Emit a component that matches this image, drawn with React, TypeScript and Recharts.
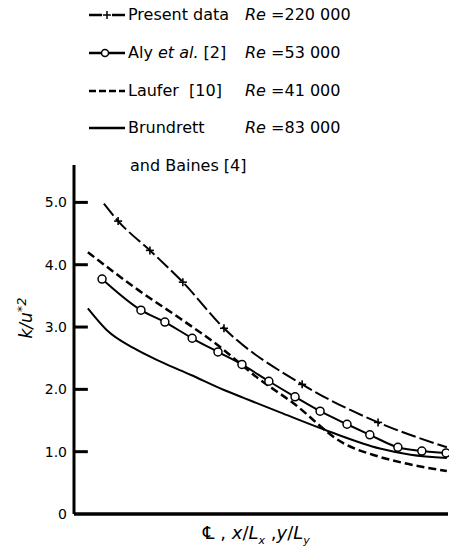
import { ComposedChart, Line, XAxis, YAxis } from 'recharts';

// values (x is a relative position along the axis, 0..100)
const presentX = [8.0, 11.8, 20.3, 29.1, 40.1, 61.0, 81.3, 99.7];
const presentY = [4.98, 4.7, 4.23, 3.72, 2.98, 2.08, 1.47, 1.07];
const alyX = [7.5, 17.9, 24.3, 31.6, 38.5, 44.9, 52.1, 59.1, 65.8, 73.0, 79.1, 86.6, 93.0, 99.5];
const alyY = [3.77, 3.27, 3.08, 2.82, 2.6, 2.4, 2.13, 1.88, 1.65, 1.44, 1.27, 1.07, 1.01, 0.98];
const lauferX = [3.7, 17.5, 28.3, 38.2, 49.2, 58.6, 71.9, 81.0, 88.0, 99.7];
const lauferY = [4.2, 3.58, 3.14, 2.72, 2.18, 1.78, 1.14, 0.93, 0.82, 0.69];
const brundrettX = [3.7, 8.8, 16.0, 23.3, 31.3, 40.1, 45.5, 55.1, 68.4, 81.8, 90.0, 99.7];
const brundrettY = [3.3, 2.95, 2.66, 2.44, 2.23, 1.99, 1.86, 1.63, 1.32, 1.05, 0.95, 0.9];

const yTicks = [0, 1, 2, 3, 4, 5];
const yTickLabels = ['0', '1.0', '2.0', '3.0', '4.0', '5.0'];
const xDomain = [0, 100];
const yDomain = [0, 5.6];
const tickLen = 3.7; // inward tick length, in x units

const toPoints = (xs: number[], ys: number[]) => xs.map((x, i) => ({ x, y: ys[i] }));

const present = toPoints(presentX, presentY);
const aly = toPoints(alyX, alyY);
const laufer = toPoints(lauferX, lauferY);
const brundrett = toPoints(brundrettX, brundrettY);

// axis frame and inward tick marks, drawn through the chart scales
const yAxisLine = toPoints([xDomain[0], xDomain[0]], yDomain);
const xAxisLine = toPoints(xDomain, [yDomain[0], yDomain[0]]);
const tickMarks = yTicks.filter(t => t > 0).map(t => toPoints([0, tickLen], [t, t]));

const FONT = '"DejaVu Sans", sans-serif';

// eslint-disable-next-line @typescript-eslint/no-explicit-any
function YTick({ x, y, payload }: any) {
  const i = yTicks.indexOf(payload.value);
  return (
    <text x={x - 7} y={y} dy={5} textAnchor="end" fontSize={14} fontFamily={FONT} fill="#000">
      {yTickLabels[i]}
    </text>
  );
}

// eslint-disable-next-line @typescript-eslint/no-explicit-any
function CrossDot({ cx, cy, index }: any) {
  if (index === 0 || index === presentX.length - 1) return <g key={`c-${index}`} />;
  return (
    <g key={`c-${index}`}>
      <line x1={cx - 4} x2={cx + 4} y1={cy} y2={cy} stroke="#000" strokeWidth={1.6} />
      <line x1={cx} x2={cx} y1={cy - 4} y2={cy + 4} stroke="#000" strokeWidth={1.6} />
    </g>
  );
}

function Symbol({ kind }: { kind: string }) {
  return (
    <svg width={38} height={20} style={{ position: 'absolute', left: 88, top: 0 }}>
      {kind === 'present' && (
        <g stroke="#000" strokeWidth={2.5}>
          <line x1={1} x2={14} y1={10} y2={10} />
          <line x1={24} x2={37} y1={10} y2={10} />
          <line x1={15} x2={23} y1={10} y2={10} strokeWidth={1.5} />
          <line x1={19} x2={19} y1={6} y2={14} strokeWidth={1.5} />
        </g>
      )}
      {kind === 'aly' && (
        <g stroke="#000" strokeWidth={2.5}>
          <line x1={1} x2={37} y1={10} y2={10} />
          <circle cx={17} cy={10} r={3.5} fill="#fff" strokeWidth={1.5} />
        </g>
      )}
      {kind === 'laufer' && (
        <line x1={1} x2={37} y1={10} y2={10} stroke="#000" strokeWidth={2.5} strokeDasharray="7 3" />
      )}
      {kind === 'brundrett' && <line x1={1} x2={37} y1={10} y2={10} stroke="#000" strokeWidth={2.5} />}
    </svg>
  );
}

const legendRows = [
  { kind: 'present', top: 5, name: <>Present data</>, re: '=220 000' },
  { kind: 'aly', top: 43, name: <>Aly <i>et al.</i> [2]</>, re: '=53 000' },
  { kind: 'laufer', top: 81, name: <>Laufer&nbsp;&nbsp;[10]</>, re: '=41 000' },
  { kind: 'brundrett', top: 118, name: <>Brundrett</>, re: '=83 000' },
];

export default function App() {
  return (
    <div style={{ position: 'absolute', left: 0, top: 0, width: 449, height: 550, background: '#fff' }}>
      <ComposedChart width={449} height={550} margin={{ top: 165, right: 1, bottom: 0, left: 0 }}>
        <XAxis
          type="number"
          dataKey="x"
          domain={xDomain}
          tick={false}
          tickLine={false}
          axisLine={false}
          height={36}
        />
        <YAxis
          type="number"
          domain={yDomain}
          ticks={yTicks}
          width={74}
          tickSize={0}
          tickMargin={0}
          tickLine={false}
          axisLine={false}
          tick={<YTick />}
        />
        <Line data={yAxisLine} dataKey="y" type="linear" stroke="#000" strokeWidth={3} dot={false} isAnimationActive={false} />
        <Line data={xAxisLine} dataKey="y" type="linear" stroke="#000" strokeWidth={3.5} dot={false} isAnimationActive={false} />
        {tickMarks.map((seg, i) => (
          <Line
            key={`tick-${i}`}
            data={seg}
            dataKey="y"
            type="linear"
            stroke="#000"
            strokeWidth={3}
            dot={false}
            isAnimationActive={false}
          />
        ))}
        <Line
          data={brundrett}
          dataKey="y"
          type="monotone"
          stroke="#000"
          strokeWidth={2}
          dot={false}
          isAnimationActive={false}
        />
        <Line
          data={laufer}
          dataKey="y"
          type="monotone"
          stroke="#000"
          strokeWidth={2.5}
          strokeDasharray="8 4"
          dot={false}
          isAnimationActive={false}
        />
        <Line
          data={present}
          dataKey="y"
          type="monotone"
          stroke="#000"
          strokeWidth={2}
          strokeDasharray="15 4"
          dot={<CrossDot />}
          isAnimationActive={false}
        />
        <Line
          data={aly}
          dataKey="y"
          type="monotone"
          stroke="#000"
          strokeWidth={2}
          dot={{ r: 4, fill: '#fff', stroke: '#000', strokeWidth: 1.5 }}
          isAnimationActive={false}
        />
      </ComposedChart>
      <div style={{ position: 'absolute', left: 0, top: 0, fontFamily: FONT, fontSize: 16, color: '#000' }}>
        {legendRows.map(r => (
          <div key={r.kind} style={{ position: 'absolute', top: r.top, left: 0, width: 449, height: 20, lineHeight: '20px' }}>
            <Symbol kind={r.kind} />
            <span style={{ position: 'absolute', left: 128, whiteSpace: 'nowrap' }}>{r.name}</span>
            <span style={{ position: 'absolute', left: 245, whiteSpace: 'nowrap' }}>
              <i>Re</i> {r.re}
            </span>
          </div>
        ))}
        <div style={{ position: 'absolute', top: 156, left: 130, lineHeight: '20px', whiteSpace: 'nowrap' }}>
          and Baines [4]
        </div>
        {/* axis titles */}
        <div
          style={{
            position: 'absolute',
            left: 25,
            top: 318,
            fontSize: 17,
            fontStyle: 'italic',
            whiteSpace: 'nowrap',
            transform: 'translate(-50%, -50%) rotate(-90deg)',
          }}
        >
          k/u<sup style={{ fontSize: 13 }}>*2</sup>
        </div>
        <div style={{ position: 'absolute', left: 203, top: 522, fontSize: 18, lineHeight: '22px', whiteSpace: 'nowrap' }}>
          ℄ , <i>x</i>/<i>L</i>
          <sub style={{ fontSize: 11 }}>
            <i>x</i>
          </sub>{' '}
          ,<i>y</i>/<i>L</i>
          <sub style={{ fontSize: 11 }}>
            <i>y</i>
          </sub>
        </div>
      </div>
    </div>
  );
}
